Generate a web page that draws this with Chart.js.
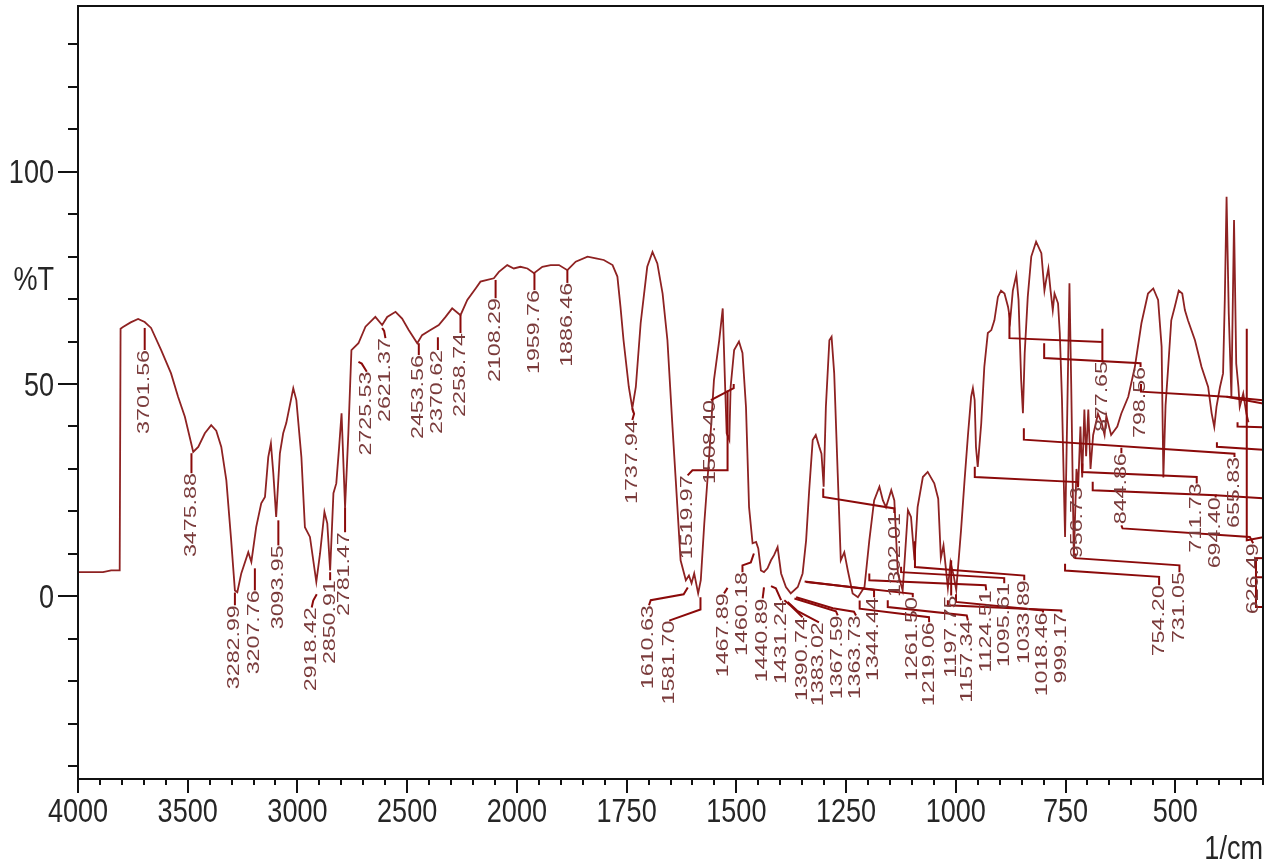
<!DOCTYPE html>
<html>
<head>
<meta charset="utf-8">
<script src="https://cdn.jsdelivr.net/npm/chart.js@4/dist/chart.umd.min.js"></script>
<style>
  html, body { margin: 0; padding: 0; background: #fff; }
  #wrap { width: 1270px; height: 864px; }
</style>
</head>
<body>
<div id="wrap"><canvas id="ir"></canvas></div>
<script>
// IR spectrum, wavenumber (1/cm) vs %T
const wavenumbers = [
  4000, 3886, 3849, 3810, 3806, 3795, 3760, 3726, 3696, 3667, 3621, 3576, 3544, 3513, 3484, 3475,
  3452, 3422, 3393, 3370, 3347, 3324, 3302, 3285, 3274, 3256, 3224, 3210, 3188, 3165, 3148, 3133,
  3121, 3110, 3097, 3080, 3065, 3051, 3019, 3005, 2982, 2966, 2943, 2914, 2897, 2877, 2864, 2851,
  2836, 2823, 2810, 2799, 2783, 2768, 2754, 2722, 2690, 2645, 2614, 2591, 2553, 2523, 2493, 2454,
  2432, 2394, 2356, 2325, 2295, 2257, 2226, 2188, 2166, 2135, 2105, 2082, 2044, 2014, 1992, 1976,
  1961, 1942, 1923, 1904, 1885, 1866, 1839, 1820, 1802, 1782, 1771, 1764, 1757, 1745, 1737, 1729,
  1718, 1703, 1691, 1680, 1668, 1657, 1646, 1638, 1627, 1615, 1608, 1602, 1596, 1587, 1581, 1573,
  1562, 1551, 1539, 1531, 1526, 1522, 1516, 1513, 1505, 1494, 1486, 1478, 1471, 1463, 1455, 1450,
  1444, 1437, 1429, 1421, 1414, 1406, 1398, 1387, 1376, 1360, 1349, 1341, 1334, 1326, 1319, 1311,
  1306, 1301, 1296, 1288, 1283, 1277, 1269, 1262, 1254, 1246, 1235, 1223, 1208, 1197, 1186, 1174,
  1166, 1159, 1147, 1140, 1132, 1121, 1109, 1102, 1094, 1087, 1075, 1064, 1049, 1040, 1034, 1028,
  1018, 1012, 1005, 999, 988, 980, 972, 965, 961, 957, 954, 950, 942, 935, 927, 919,
  912, 904, 897, 889, 881, 876, 870, 862, 857, 851, 847, 843, 836, 828, 817, 805,
  798, 794, 789, 784, 779, 775, 767, 763, 758, 754, 751, 746, 741, 737, 731, 725,
  721, 716, 712, 707, 703, 698, 693, 687, 676, 668, 661, 657, 646, 632, 623, 607,
  592, 577, 562, 550, 539, 531, 527, 522, 516, 509, 501, 492, 484, 478, 471, 455,
  440, 425, 417, 411, 406, 398, 391, 387, 383, 378, 372, 366, 361, 356, 353, 345,
  338, 333
];
const transmittance = [
  5.7, 5.7, 6.1, 6.1, 63.0, 63.4, 64.5, 65.3, 64.6, 63.2, 58.0, 52.5, 47.0, 42.3, 36.0, 34.0,
  35.2, 38.4, 40.3, 39.0, 35.2, 27.3, 13.2, 1.4, 1.0, 5.4, 10.4, 8.1, 16.3, 21.9, 23.4, 32.8,
  36.0, 29.0, 18.7, 33.7, 38.4, 40.8, 49.0, 46.2, 32.8, 16.3, 14.0, 3.4, 10.1, 19.9, 17.2, 6.1,
  24.3, 26.6, 35.2, 43.1, 21.0, 38.4, 58.0, 59.6, 63.5, 65.8, 63.9, 65.8, 67.0, 65.4, 62.7, 59.6,
  61.5, 62.7, 63.9, 65.8, 67.8, 66.2, 69.8, 72.5, 74.1, 74.5, 74.9, 76.4, 78.0, 77.2, 77.6, 77.2,
  76.1, 77.6, 78.0, 78.0, 76.8, 78.8, 80.0, 79.6, 79.2, 78.0, 75.3, 68.2, 60.3, 49.3, 44.3, 49.3,
  64.3, 77.6, 81.1, 78.4, 71.3, 60.3, 40.8, 27.3, 8.5, 3.8, 4.9, 3.1, 5.4, 0.7, 3.8, 17.2,
  32.8, 50.9, 60.3, 67.8, 50.9, 38.4, 36.8, 49.3, 58.0, 60.0, 57.3, 44.6, 21.0, 12.5, 12.8, 11.3,
  6.1, 5.7, 6.6, 8.5, 9.7, 11.6, 5.4, 2.2, 0.7, 2.2, 5.4, 13.2, 25.0, 36.8, 38.0, 35.2,
  33.6, 25.8, 44.6, 60.3, 61.1, 52.5, 28.9, 8.5, 10.4, 6.1, 0.7, -0.2, 2.2, 13.2, 22.6, 25.8,
  22.6, 21.0, 25.0, 22.6, 5.4, 1.4, 20.3, 18.7, 8.5, 21.0, 28.1, 29.3, 26.6, 23.0, 9.0, 12.0,
  2.0, 8.0, 5.0, 1.5, 15.6, 27.3, 38.3, 47.0, 49.0, 46.2, 35.2, 30.5, 40.7, 54.0, 62.0, 62.7,
  65.0, 70.5, 72.0, 71.3, 68.2, 65.0, 72.0, 75.7, 69.8, 50.9, 43.1, 57.2, 70.5, 80.0, 83.5, 80.8,
  72.0, 74.5, 77.2, 72.0, 67.4, 71.3, 69.0, 62.0, 46.2, 27.3, 14.0, 43.1, 73.7, 50.0, 9.0, 30.0,
  26.0, 40.0, 28.0, 44.0, 33.0, 44.0, 30.0, 38.0, 43.0, 41.0, 38.0, 42.5, 38.0, 40.0, 43.0, 47.0,
  54.0, 64.3, 71.3, 72.5, 69.8, 58.8, 28.0, 45.0, 54.0, 65.0, 68.2, 72.0, 71.3, 67.4, 65.0, 60.3,
  54.0, 49.3, 43.1, 39.9, 44.6, 49.3, 52.5, 70.0, 94.1, 66.6, 47.0, 88.6, 54.8, 49.3, 44.6, 47.8,
  43.1, 41.0
];

// axis tick labels
const xTickLabels = [4000, 3500, 3000, 2500, 2000, 1750, 1500, 1250, 1000, 750, 500];
const yTickLabels = [0, 50, 100];

// peak labels: text, [wavenumber, %T] of the label's upper end, leader line to the band
const peakLabels = [
  { text: '3701.56', at: [3696, 58.0], leader: [[3696, 58.0], [3696, 63.2]] },
  { text: '3475.88', at: [3483, 29.0], leader: [[3483, 29.0], [3483, 33.7]] },
  { text: '3282.99', at: [3285, -2.1], leader: [[3285, -2.1], [3285, 0.9]] },
  { text: '3207.76', at: [3194, 1.4], leader: [[3194, 1.4], [3194, 6.6]] },
  { text: '3093.95', at: [3087, 12.0], leader: [[3087, 12.0], [3087, 17.9]] },
  { text: '2918.42', at: [2935, -2.6], leader: [[2935, -2.6], [2928, -1.0], [2912, 0.5]] },
  { text: '2850.91', at: [2851, 3.8], leader: [[2851, 3.8], [2851, 5.7]] },
  { text: '2781.47', at: [2783, 15.1], leader: [[2783, 15.1], [2783, 21.0]] },
  { text: '2725.53', at: [2684, 52.9], leader: [[2684, 52.9], [2707, 54.8], [2722, 55.2]] },
  { text: '2621.37', at: [2599, 60.8], leader: [[2599, 60.8], [2605, 62.5], [2614, 63.2]] },
  { text: '2453.56', at: [2447, 56.8], leader: [[2447, 56.8], [2447, 59.6]] },
  { text: '2370.62', at: [2360, 58.0], leader: [[2360, 58.0], [2360, 61.0]] },
  { text: '2258.74', at: [2257, 62.0], leader: [[2257, 62.0], [2257, 66.2]] },
  { text: '2108.29', at: [2097, 70.2], leader: [[2097, 70.2], [2097, 74.5]] },
  { text: '1959.76', at: [1960, 72.1], leader: [[1960, 72.1], [1960, 76.1]] },
  { text: '1886.46', at: [1885, 73.8], leader: [[1885, 73.8], [1885, 76.8]] },
  { text: '1737.94', at: [1737, 41.5], leader: [[1737, 41.5], [1733, 43.0], [1737, 44.3]] },
  { text: '1519.97', at: [1611, 28.5], leader: [[1611, 28.5], [1600, 29.7], [1520, 29.7], [1520, 48.5]] },
  { text: '1508.40', at: [1558, 46.2], leader: [[1558, 46.2], [1506, 49.0], [1506, 50.0]] },
  { text: '1610.63', at: [1699, -2.1], leader: [[1699, -2.1], [1695, -0.9], [1620, 0.5], [1610.6, 2.1]] },
  { text: '1581.70', at: [1653, -5.7], leader: [[1653, -5.7], [1581.7, -3.1], [1581.7, -0.2]] },
  { text: '1467.89', at: [1528, 0.7], leader: [[1528, 0.7], [1520, 2.0]] },
  { text: '1460.18', at: [1486, 5.7], leader: [[1486, 5.7], [1486, 7.3], [1467, 8.0], [1460, 10.1]] },
  { text: '1440.89', at: [1440, -0.5], leader: [[1440, -0.5], [1437, 2.1]] },
  { text: '1431.24', at: [1398, -0.9], leader: [[1398, -0.9], [1410, 1.9], [1421, 2.4]] },
  { text: '1390.74', at: [1349, -4.9], leader: [[1349, -4.9], [1376, -2.2], [1390.7, -0.9]] },
  { text: '1383.02', at: [1311.7, -6.1], leader: [[1311.7, -6.1], [1360, -3.5], [1383, -1.3]] },
  { text: '1367.59', at: [1269, -4.5], leader: [[1269, -4.5], [1273, -3.5], [1367.6, -0.5]] },
  { text: '1363.73', at: [1227.3, -4.5], leader: [[1227.3, -4.5], [1232, -3.6], [1280, -2.8], [1363.7, -0.2]] },
  { text: '1344.44', at: [1186.2, -0.2], leader: [[1186.2, -0.2], [1186.2, 1.5], [1344.4, 3.5]] },
  { text: '1302.01', at: [1138, 19.6], leader: [[1140, 19.6], [1140, 20.7], [1302, 23.4], [1302, 25.4]] },
  { text: '1261.50', at: [1098, -0.2], leader: [[1098, -0.2], [1098, 0.6], [1341, 3.4]] },
  { text: '1219.06', at: [1060.7, -6.1], leader: [[1060.7, -6.1], [1061, -4.9], [1219, -2.9], [1219, -1.0]] },
  { text: '1197.75', at: [1010.5, 0.2], leader: [[1010.5, 0.2], [1010.5, 8.5]] },
  { text: '1157.34', at: [972.4, -5.7], leader: [[972.4, -5.7], [975, -4.5], [1155, -2.5], [1155, -0.9]] },
  { text: '1124.51', at: [930.7, 1.4], leader: [[930.7, 1.4], [932, 2.6], [1197, 3.8], [1197, 5.4]] },
  { text: '1095.61', at: [889.6, 3.1], leader: [[889.6, 3.1], [889.6, 4.3], [1124.6, 5.7], [1124.6, 7.0]] },
  { text: '1033.89', at: [844, 3.8], leader: [[844, 3.8], [844, 4.9], [1093, 6.9], [1093, 13.0]] },
  { text: '1018.46', at: [801.3, -3.8], leader: [[801.3, -3.8], [801.3, -3.3], [999.5, -1.3], [999.5, 0.5]] },
  { text: '999.17', at: [759.6, -3.8], leader: [[759.6, -3.8], [759.6, -3.3], [1018, -2.1], [1018, -0.9]] },
  { text: '956.73', at: [721.5, 25.7], leader: [[721.5, 25.7], [721.5, 26.9], [956.7, 28.1], [956.7, 30.5]] },
  { text: '877.65', at: [666, 55.4], leader: [[666, 55.4], [666, 63.0], [666, 59.9], [877.7, 60.8], [877.7, 66.7]] },
  { text: '798.56', at: [579, 54.0], leader: [[579, 54.0], [579, 54.9], [798.6, 56.1], [798.6, 59.6]] },
  { text: '844.86', at: [622.7, 33.7], leader: [[622.7, 33.7], [622.7, 35.0]] },
  { text: '711.73', at: [451, 26.6], leader: [[451, 26.6], [451, 28.1], [711.7, 29.3], [711.7, 31.3]] },
  { text: '694.40', at: [408, 23.3], leader: [[408, 23.3], [408, 23.8], [688, 25.0], [688, 27.0]] },
  { text: '655.83', at: [365, 32.8], leader: [[365, 32.8], [365, 33.6], [844.9, 36.9], [844.9, 39.6]] },
  { text: '626.49', at: [322.5, 12.5], leader: [[322.5, 12.5], [330, 14.0], [620, 16.0], [622.7, 16.7]] },
  { text: '754.20', at: [536.7, 2.6], leader: [[536.7, 2.6], [536.7, 4.6], [751, 6.1], [751, 7.7]] },
  { text: '731.05', at: [490.4, 5.7], leader: [[490.4, 5.7], [490.4, 7.3], [727.6, 9.0], [727.6, 10.1]] }
];

// leaders whose labels fall outside the frame on the right
const offFrameLeaders = [
  [[578, 50.0], [578, 48.2], [383, 47.0], [300, 46.2]],
  [[383, 47.0], [300, 45.4]],
  [[358, 41.0], [358, 40.0], [300, 39.8]],
  [[405, 36.3], [405, 35.2], [300, 34.5]],
  [[408, 23.8], [300, 23.1]],
  [[337, 63.0], [337, 13.2], [300, 13.9]],
  [[318, 9.0], [300, 9.0]],
  [[318, 4.5], [300, 4.5]],
  [[316, 9.0], [316, -2.5], [300, -2.5]]
];

// the axis is compressed 2:1 above 2000 1/cm
function toU(wn) { return wn <= 2000 ? wn : 2000 + (wn - 2000) / 2; }

const curveColor = '#8e2222';
const leaderColor = '#8b0a0a';
const labelColor = '#7a3b3b';

function narrowText(ctx, s, X, Y, align) {
  ctx.save();
  ctx.translate(X, Y);
  ctx.scale(0.82, 1);
  ctx.textAlign = align;
  ctx.fillText(s, 0, 0);
  ctx.restore();
}

const irDecor = {
  id: 'irDecor',
  afterDraw(chart) {
    const { ctx, chartArea: a, scales: { x, y } } = chart;
    const px = wn => x.getPixelForValue(toU(wn));
    const py = t => y.getPixelForValue(t);

    ctx.save();
    ctx.beginPath();
    ctx.rect(a.left, a.top, a.right - a.left, a.bottom - a.top);
    ctx.clip();

    // leader lines
    ctx.strokeStyle = leaderColor;
    ctx.lineWidth = 2;
    const drawPoly = pts => {
      ctx.beginPath();
      pts.forEach((p, i) => i ? ctx.lineTo(px(p[0]), py(p[1])) : ctx.moveTo(px(p[0]), py(p[1])));
      ctx.stroke();
    };
    peakLabels.forEach(l => drawPoly(l.leader));
    offFrameLeaders.forEach(drawPoly);

    // rotated peak labels
    ctx.fillStyle = labelColor;
    ctx.font = '16px "Liberation Sans", Arial, sans-serif';
    peakLabels.forEach(l => {
      ctx.save();
      ctx.translate(px(l.at[0]), py(l.at[1]));
      ctx.rotate(-Math.PI / 2);
      ctx.scale(1.45, 1);
      ctx.textAlign = 'right';
      ctx.textBaseline = 'middle';
      ctx.fillText(l.text, 0, 0);
      ctx.restore();
    });
    ctx.restore();

    // frame
    ctx.save();
    ctx.strokeStyle = '#111';
    ctx.lineWidth = 2;
    ctx.strokeRect(a.left, a.top, a.right - a.left, a.bottom - a.top);

    // x ticks (every 50 on the plotted scale)
    ctx.beginPath();
    for (let u = 300; u <= 3000; u += 50) {
      const X = Math.round(x.getPixelForValue(u));
      const major = u >= 500 && (u - 500) % 250 === 0;
      ctx.moveTo(X, a.bottom);
      ctx.lineTo(X, a.bottom + (major ? 14 : 6));
    }
    // y ticks every 10
    for (let t = -40; t <= 130; t += 10) {
      const Y = Math.round(py(t));
      const major = yTickLabels.includes(t);
      ctx.moveTo(a.left - (major ? 20 : 10), Y);
      ctx.lineTo(a.left, Y);
    }
    ctx.stroke();

    ctx.fillStyle = '#262626';
    ctx.font = '33px "Liberation Sans", Arial, sans-serif';
    ctx.textBaseline = 'alphabetic';
    xTickLabels.forEach(w => narrowText(ctx, String(w), px(w), a.bottom + 43, 'center'));
    yTickLabels.forEach(t => narrowText(ctx, String(t), a.left - 24, py(t) + 11.5, 'right'));
    narrowText(ctx, '%T', a.left - 24, py(75) + 12.5, 'right');
    narrowText(ctx, '1/cm', a.right, a.bottom + 80, 'right');
    ctx.restore();
  }
};

new Chart(document.getElementById('ir'), {
  type: 'line',
  data: {
    datasets: [{
      data: wavenumbers.map((w, i) => ({ x: toU(w), y: transmittance[i] })),
      borderColor: curveColor,
      borderWidth: 1.8,
      pointRadius: 0,
      tension: 0,
      fill: false
    }]
  },
  options: {
    responsive: true,
    maintainAspectRatio: false,
    animation: false,
    layout: { padding: { left: 78, right: 7, top: 6, bottom: 85 } },
    plugins: { legend: { display: false }, tooltip: { enabled: false } },
    scales: {
      x: { type: 'linear', reverse: true, min: 300, max: 3000, display: false },
      y: { type: 'linear', min: -43, max: 139, display: false }
    }
  },
  plugins: [irDecor]
});
</script>
</body>
</html>
